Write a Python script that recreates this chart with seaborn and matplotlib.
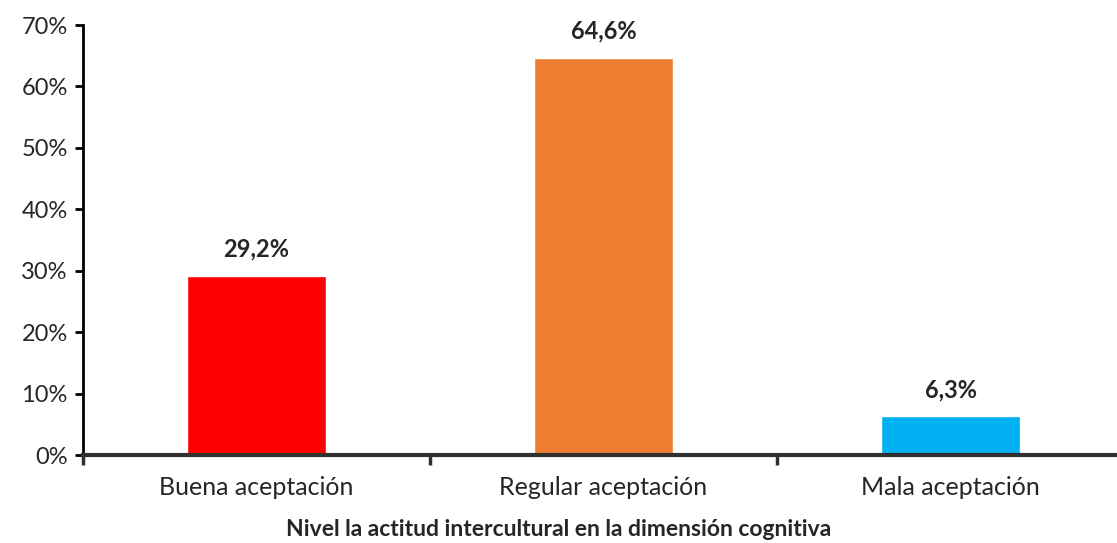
import matplotlib
matplotlib.use("Agg")
import matplotlib.pyplot as plt
import seaborn as sns
import pandas as pd
from matplotlib.ticker import FuncFormatter, FixedLocator

categories = ["Buena aceptación", "Regular aceptación", "Mala aceptación"]
values = [29.2, 64.6, 6.3]
labels = ["29,2%", "64,6%", "6,3%"]
colors = ["#FF0000", "#ED7D31", "#00B0F0"]
x_title = "Nivel la actitud intercultural en la dimensión cognitiva"

sns.set_theme(style="white")
plt.rcParams['font.family'] = ['Lato', 'DejaVu Sans']

fig = plt.figure(figsize=(11.17, 5.43), dpi=100)
ax = fig.add_axes([83/1117, 88/543, (1124-83)/1117, 430/543])

df = pd.DataFrame({"cat": categories, "val": values})
sns.barplot(data=df, x="cat", y="val", hue="cat", palette=colors, legend=False,
            width=0.40, saturation=1, ax=ax)

ax.set_ylim(0, 70)
ax.set_xlim(-0.5, 2.5)
ax.set_yticks(range(0, 71, 10))
ax.yaxis.set_major_formatter(FuncFormatter(lambda v, p: f"{int(v)}%"))
ax.tick_params(axis='y', which='major', direction='out', length=6, width=2,
               color='black', labelsize=17, pad=5, left=True)
ax.tick_params(axis='x', which='major', length=0, labelsize=18, pad=15)
ax.xaxis.set_minor_locator(FixedLocator([-0.5, 0.5, 1.5, 2.5]))
ax.tick_params(axis='x', which='minor', direction='out', length=7, width=2.5,
               color='#303030', bottom=True)

for s in ['top', 'right']:
    ax.spines[s].set_visible(False)
ax.spines['left'].set_color('black')
ax.spines['left'].set_linewidth(2)
ax.spines['bottom'].set_color('#303030')
ax.spines['bottom'].set_linewidth(3)

for i, (v, lab) in enumerate(zip(values, labels)):
    ax.annotate(lab, (i, v), xytext=(0, 11), textcoords='offset points',
                ha='center', va='bottom', fontsize=17, fontweight='bold')

ax.set_xlabel("")
ax.set_ylabel("")
fig.text(0.5, 1 - 530/543, x_title, ha='center', va='center',
         fontsize=16.5, fontweight='bold')

fig.savefig("out.png", dpi=100)
